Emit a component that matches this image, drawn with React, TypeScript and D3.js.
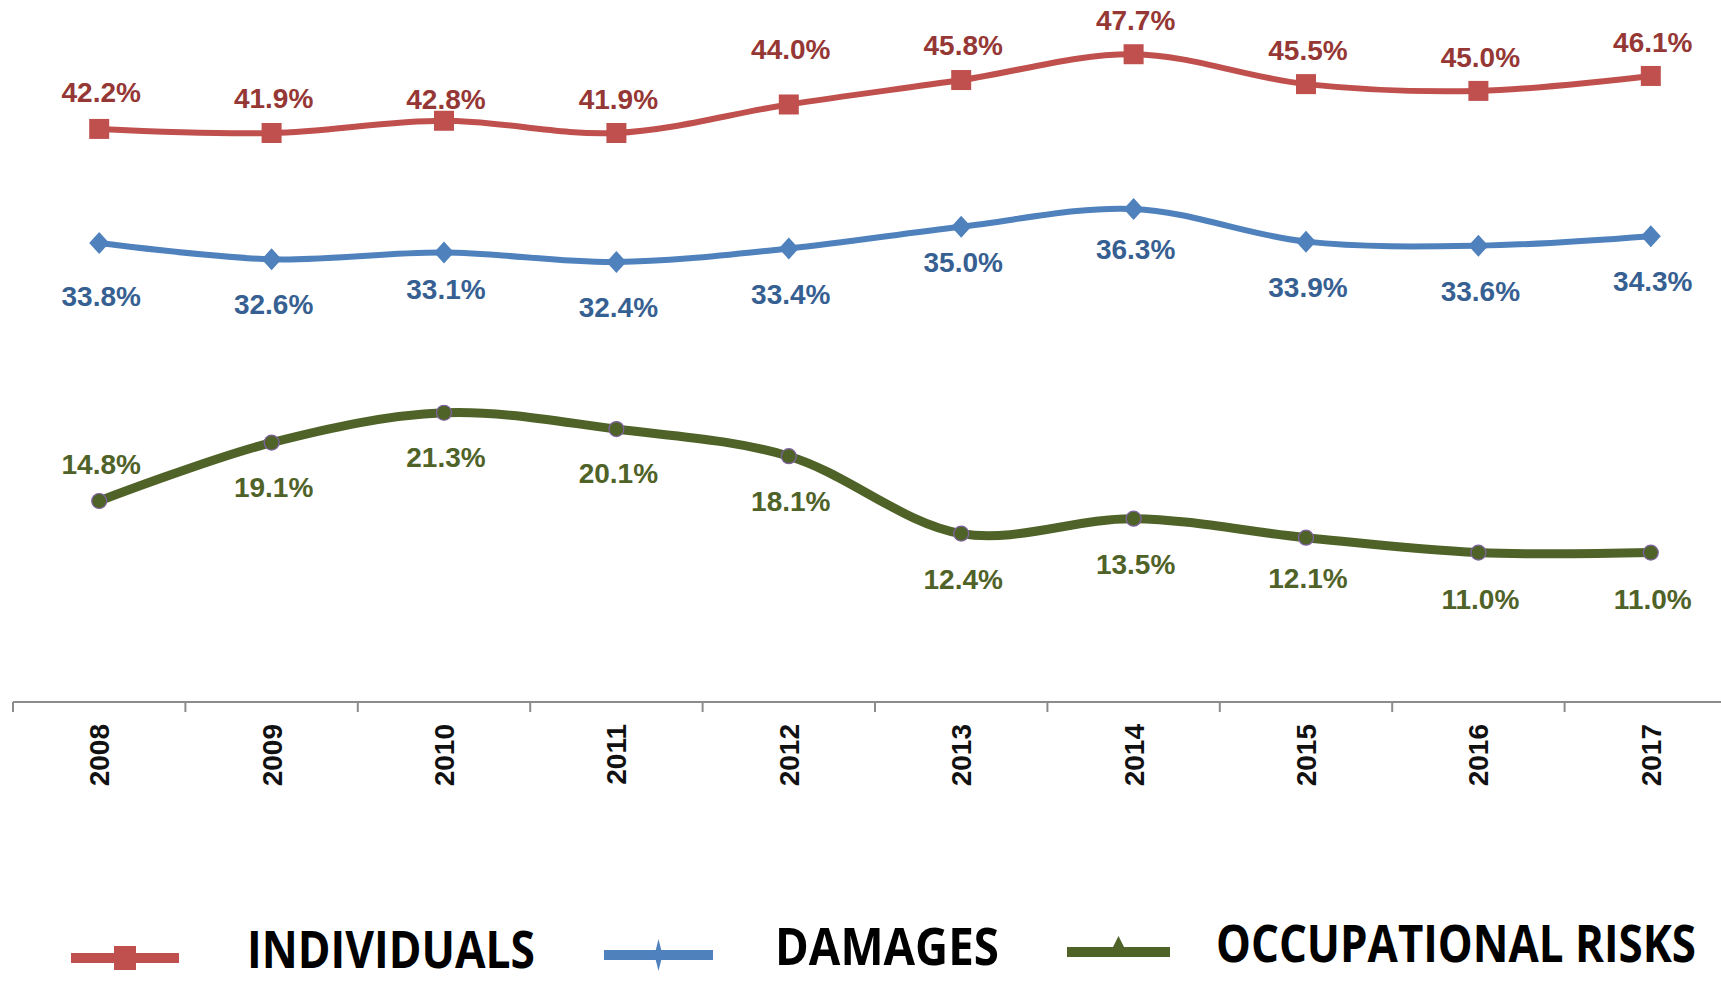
import React, { useLayoutEffect, useRef, useState } from "react";
import { scaleBand, scaleLinear, line, curveCatmullRom } from "d3";

const years = ["2008", "2009", "2010", "2011", "2012", "2013", "2014", "2015", "2016", "2017"];
const individuals = [42.2, 41.9, 42.8, 41.9, 44.0, 45.8, 47.7, 45.5, 45.0, 46.1];
const damages = [33.8, 32.6, 33.1, 32.4, 33.4, 35.0, 36.3, 33.9, 33.6, 34.3];
const occupational = [14.8, 19.1, 21.3, 20.1, 18.1, 12.4, 13.5, 12.1, 11.0, 11.0];
const seriesNames = ["INDIVIDUALS", "DAMAGES", "OCCUPATIONAL RISKS"];

// label nudges (px from marker centre), placement copied from the original
const redNudge = [-37, -35, -22, -34, -56, -35, -34, -34, -34, -34];
const blueNudge = [53, 45, 36, 45, 45, 35, 40, 45, 45, 45];
const greenNudge = [-37, 44, 44, 44, 45, 45, 45, 40, 46, 46];

const width = 1721;
const height = 983;
const axisY = 702;

const series = [
  { name: seriesNames[0], values: individuals, color: "#C0504D", text: "#953735", stroke: 6, nudge: redNudge, marker: "square" },
  { name: seriesNames[1], values: damages, color: "#4F81BD", text: "#376092", stroke: 6, nudge: blueNudge, marker: "diamond" },
  { name: seriesNames[2], values: occupational, color: "#4F6228", text: "#4F6228", stroke: 9, nudge: greenNudge, marker: "circle" },
];

const Marker = ({ type, x, y, color }) => {
  if (type === "square") return <rect x={x - 10} y={y - 10} width={20} height={20} fill={color} />;
  if (type === "diamond")
    return <path d={`M${x},${y - 11}L${x + 10},${y}L${x},${y + 11}L${x - 10},${y}Z`} fill={color} />;
  return <circle cx={x} cy={y} r={7.5} fill={color} stroke="#8064A2" strokeWidth={1.2} />;
};

// condensed legend text: squeeze the glyphs horizontally to the wanted width
const LegendLabel = ({ x, y, w, children }) => {
  const ref = useRef(null);
  const [sx, setSx] = useState(0.8);
  useLayoutEffect(() => {
    if (ref.current) {
      const natural = ref.current.getComputedTextLength();
      if (natural > 0) setSx(w / natural);
    }
  }, [w]);
  return (
    <text
      ref={ref}
      transform={`translate(${x},${y}) scale(${sx},1)`}
      fontFamily="Open Sans, DejaVu Sans, sans-serif"
      fontWeight="bold"
      fontSize={52}
      fill="#000"
    >
      {children}
    </text>
  );
};

export default function App() {
  const xScale = scaleBand().domain(years).range([13, 1737]);
  const yScale = scaleLinear().domain([0, 50]).range([axisY, 23]);
  const cx = (d) => xScale(d) + xScale.bandwidth() / 2;

  const lineGen = line()
    .x((d, i) => cx(years[i]))
    .y((d) => yScale(d))
    .curve(curveCatmullRom.alpha(0.5));

  const legend = [
    { x1: 71, x2: 179, y: 958, tx: 247, tw: 288, ty: 968 },
    { x1: 604, x2: 713, y: 955, tx: 775, tw: 224, ty: 965 },
    { x1: 1067, x2: 1170, y: 952, tx: 1216, tw: 480, ty: 962 },
  ];

  return (
    <svg width={width} height={height} style={{ position: "absolute", left: 0, top: 0, background: "#fff" }}>
      {/* x axis */}
      <line x1={13} x2={width} y1={axisY} y2={axisY} stroke="#8c8c8c" strokeWidth={2} />
      {years.map((yr) => (
        <line key={"t" + yr} x1={xScale(yr)} x2={xScale(yr)} y1={axisY} y2={axisY + 10} stroke="#8c8c8c" strokeWidth={2} />
      ))}
      {years.map((yr) => (
        <text
          key={"l" + yr}
          transform={`translate(${cx(yr) + 10},724) rotate(-90)`}
          textAnchor="end"
          fontFamily="Liberation Sans, Arial, sans-serif"
          fontWeight="bold"
          fontSize={28}
          fill="#111"
        >
          {yr}
        </text>
      ))}

      {series.map((s) => (
        <g key={s.name}>
          <path d={lineGen(s.values)} fill="none" stroke={s.color} strokeWidth={s.stroke} strokeLinejoin="round" />
          {s.values.map((v, i) => (
            <Marker key={i} type={s.marker} x={cx(years[i])} y={yScale(v)} color={s.color} />
          ))}
          {s.values.map((v, i) => (
            <text
              key={"v" + i}
              x={cx(years[i]) + 2}
              y={yScale(v) + s.nudge[i]}
              dy="0.36em"
              textAnchor="middle"
              fontFamily="Liberation Sans, Arial, sans-serif"
              fontWeight="bold"
              fontSize={28}
              fill={s.text}
            >
              {v.toFixed(1)}%
            </text>
          ))}
        </g>
      ))}

      {/* legend */}
      {series.map((s, i) => {
        const l = legend[i];
        const mx = (l.x1 + l.x2) / 2;
        return (
          <g key={"lg" + i}>
            <line x1={l.x1} x2={l.x2} y1={l.y} y2={l.y} stroke={s.color} strokeWidth={10} />
            {i === 0 && <rect x={mx - 11} y={l.y - 12} width={22} height={24} fill={s.color} />}
            {i === 1 && <path d={`M${mx},${l.y - 16}L${mx + 4},${l.y}L${mx},${l.y + 16}L${mx - 4},${l.y}Z`} fill={s.color} />}
            {i === 2 && <path d={`M${mx},${l.y - 16}L${mx + 8},${l.y}L${mx - 8},${l.y}Z`} fill={s.color} />}
            <LegendLabel x={l.tx} y={l.ty} w={l.tw}>
              {s.name}
            </LegendLabel>
          </g>
        );
      })}
    </svg>
  );
}
